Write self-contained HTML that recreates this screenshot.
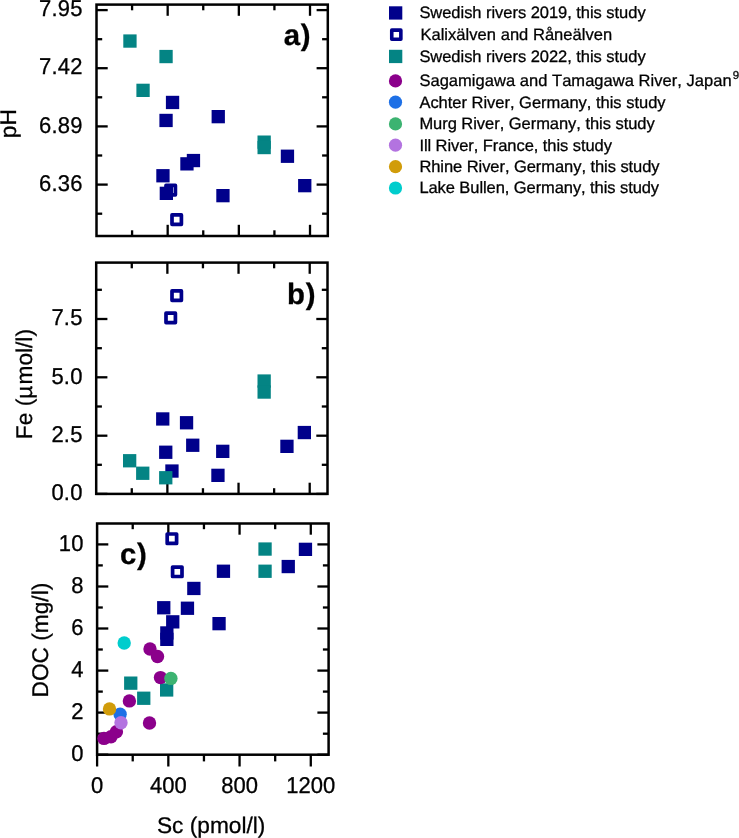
<!DOCTYPE html>
<html><head><meta charset="utf-8"><title>Figure</title>
<style>
html,body{margin:0;padding:0;background:#fff;}
body{width:739px;height:838px;overflow:hidden;}
svg{display:block;}
text{font-family:"Liberation Sans",sans-serif;fill:#000;stroke:#000;stroke-width:0.3px;font-kerning:none;text-rendering:geometricPrecision;}
</style></head><body>
<svg width="739" height="838" viewBox="0 0 739 838">
<rect width="739" height="838" fill="#fff"/>
<rect x="96.5" y="4.6" width="231.30" height="231.40" fill="none" stroke="#000" stroke-width="2.5"/>
<line x1="96.50" y1="10.10" x2="107.70" y2="10.10" stroke="#000" stroke-width="2.3"/>
<line x1="327.80" y1="10.10" x2="316.60" y2="10.10" stroke="#000" stroke-width="2.3"/>
<line x1="96.50" y1="68.20" x2="107.70" y2="68.20" stroke="#000" stroke-width="2.3"/>
<line x1="327.80" y1="68.20" x2="316.60" y2="68.20" stroke="#000" stroke-width="2.3"/>
<line x1="96.50" y1="126.40" x2="107.70" y2="126.40" stroke="#000" stroke-width="2.3"/>
<line x1="327.80" y1="126.40" x2="316.60" y2="126.40" stroke="#000" stroke-width="2.3"/>
<line x1="96.50" y1="184.60" x2="107.70" y2="184.60" stroke="#000" stroke-width="2.3"/>
<line x1="327.80" y1="184.60" x2="316.60" y2="184.60" stroke="#000" stroke-width="2.3"/>
<line x1="96.50" y1="39.20" x2="102.20" y2="39.20" stroke="#000" stroke-width="2.3"/>
<line x1="327.80" y1="39.20" x2="322.10" y2="39.20" stroke="#000" stroke-width="2.3"/>
<line x1="96.50" y1="97.30" x2="102.20" y2="97.30" stroke="#000" stroke-width="2.3"/>
<line x1="327.80" y1="97.30" x2="322.10" y2="97.30" stroke="#000" stroke-width="2.3"/>
<line x1="96.50" y1="155.50" x2="102.20" y2="155.50" stroke="#000" stroke-width="2.3"/>
<line x1="327.80" y1="155.50" x2="322.10" y2="155.50" stroke="#000" stroke-width="2.3"/>
<line x1="96.50" y1="213.70" x2="102.20" y2="213.70" stroke="#000" stroke-width="2.3"/>
<line x1="327.80" y1="213.70" x2="322.10" y2="213.70" stroke="#000" stroke-width="2.3"/>
<line x1="167.67" y1="4.60" x2="167.67" y2="15.80" stroke="#000" stroke-width="2.3"/>
<line x1="238.84" y1="4.60" x2="238.84" y2="15.80" stroke="#000" stroke-width="2.3"/>
<line x1="310.01" y1="4.60" x2="310.01" y2="15.80" stroke="#000" stroke-width="2.3"/>
<line x1="132.08" y1="4.60" x2="132.08" y2="10.30" stroke="#000" stroke-width="2.3"/>
<line x1="203.25" y1="4.60" x2="203.25" y2="10.30" stroke="#000" stroke-width="2.3"/>
<line x1="274.42" y1="4.60" x2="274.42" y2="10.30" stroke="#000" stroke-width="2.3"/>
<line x1="167.67" y1="236.00" x2="167.67" y2="224.80" stroke="#000" stroke-width="2.3"/>
<line x1="238.84" y1="236.00" x2="238.84" y2="224.80" stroke="#000" stroke-width="2.3"/>
<line x1="310.01" y1="236.00" x2="310.01" y2="224.80" stroke="#000" stroke-width="2.3"/>
<line x1="132.08" y1="236.00" x2="132.08" y2="230.30" stroke="#000" stroke-width="2.3"/>
<line x1="203.25" y1="236.00" x2="203.25" y2="230.30" stroke="#000" stroke-width="2.3"/>
<line x1="274.42" y1="236.00" x2="274.42" y2="230.30" stroke="#000" stroke-width="2.3"/>
<rect x="96.2" y="262.6" width="231.30" height="231.30" fill="none" stroke="#000" stroke-width="2.5"/>
<line x1="96.20" y1="319.00" x2="107.40" y2="319.00" stroke="#000" stroke-width="2.3"/>
<line x1="327.50" y1="319.00" x2="316.30" y2="319.00" stroke="#000" stroke-width="2.3"/>
<line x1="96.20" y1="377.30" x2="107.40" y2="377.30" stroke="#000" stroke-width="2.3"/>
<line x1="327.50" y1="377.30" x2="316.30" y2="377.30" stroke="#000" stroke-width="2.3"/>
<line x1="96.20" y1="435.70" x2="107.40" y2="435.70" stroke="#000" stroke-width="2.3"/>
<line x1="327.50" y1="435.70" x2="316.30" y2="435.70" stroke="#000" stroke-width="2.3"/>
<line x1="96.20" y1="493.90" x2="107.40" y2="493.90" stroke="#000" stroke-width="2.3"/>
<line x1="327.50" y1="493.90" x2="316.30" y2="493.90" stroke="#000" stroke-width="2.3"/>
<line x1="96.20" y1="289.80" x2="101.90" y2="289.80" stroke="#000" stroke-width="2.3"/>
<line x1="327.50" y1="289.80" x2="321.80" y2="289.80" stroke="#000" stroke-width="2.3"/>
<line x1="96.20" y1="348.20" x2="101.90" y2="348.20" stroke="#000" stroke-width="2.3"/>
<line x1="327.50" y1="348.20" x2="321.80" y2="348.20" stroke="#000" stroke-width="2.3"/>
<line x1="96.20" y1="406.50" x2="101.90" y2="406.50" stroke="#000" stroke-width="2.3"/>
<line x1="327.50" y1="406.50" x2="321.80" y2="406.50" stroke="#000" stroke-width="2.3"/>
<line x1="96.20" y1="464.80" x2="101.90" y2="464.80" stroke="#000" stroke-width="2.3"/>
<line x1="327.50" y1="464.80" x2="321.80" y2="464.80" stroke="#000" stroke-width="2.3"/>
<line x1="167.37" y1="262.60" x2="167.37" y2="273.80" stroke="#000" stroke-width="2.3"/>
<line x1="238.54" y1="262.60" x2="238.54" y2="273.80" stroke="#000" stroke-width="2.3"/>
<line x1="309.71" y1="262.60" x2="309.71" y2="273.80" stroke="#000" stroke-width="2.3"/>
<line x1="131.78" y1="262.60" x2="131.78" y2="268.30" stroke="#000" stroke-width="2.3"/>
<line x1="202.95" y1="262.60" x2="202.95" y2="268.30" stroke="#000" stroke-width="2.3"/>
<line x1="274.12" y1="262.60" x2="274.12" y2="268.30" stroke="#000" stroke-width="2.3"/>
<line x1="167.37" y1="493.90" x2="167.37" y2="482.70" stroke="#000" stroke-width="2.3"/>
<line x1="238.54" y1="493.90" x2="238.54" y2="482.70" stroke="#000" stroke-width="2.3"/>
<line x1="309.71" y1="493.90" x2="309.71" y2="482.70" stroke="#000" stroke-width="2.3"/>
<line x1="131.78" y1="493.90" x2="131.78" y2="488.20" stroke="#000" stroke-width="2.3"/>
<line x1="202.95" y1="493.90" x2="202.95" y2="488.20" stroke="#000" stroke-width="2.3"/>
<line x1="274.12" y1="493.90" x2="274.12" y2="488.20" stroke="#000" stroke-width="2.3"/>
<rect x="97.1" y="523.5" width="231.50" height="231.20" fill="none" stroke="#000" stroke-width="2.5"/>
<line x1="97.10" y1="544.40" x2="108.30" y2="544.40" stroke="#000" stroke-width="2.3"/>
<line x1="328.60" y1="544.40" x2="317.40" y2="544.40" stroke="#000" stroke-width="2.3"/>
<line x1="97.10" y1="586.50" x2="108.30" y2="586.50" stroke="#000" stroke-width="2.3"/>
<line x1="328.60" y1="586.50" x2="317.40" y2="586.50" stroke="#000" stroke-width="2.3"/>
<line x1="97.10" y1="628.50" x2="108.30" y2="628.50" stroke="#000" stroke-width="2.3"/>
<line x1="328.60" y1="628.50" x2="317.40" y2="628.50" stroke="#000" stroke-width="2.3"/>
<line x1="97.10" y1="670.60" x2="108.30" y2="670.60" stroke="#000" stroke-width="2.3"/>
<line x1="328.60" y1="670.60" x2="317.40" y2="670.60" stroke="#000" stroke-width="2.3"/>
<line x1="97.10" y1="712.60" x2="108.30" y2="712.60" stroke="#000" stroke-width="2.3"/>
<line x1="328.60" y1="712.60" x2="317.40" y2="712.60" stroke="#000" stroke-width="2.3"/>
<line x1="97.10" y1="754.70" x2="108.30" y2="754.70" stroke="#000" stroke-width="2.3"/>
<line x1="328.60" y1="754.70" x2="317.40" y2="754.70" stroke="#000" stroke-width="2.3"/>
<line x1="97.10" y1="565.40" x2="102.80" y2="565.40" stroke="#000" stroke-width="2.3"/>
<line x1="328.60" y1="565.40" x2="322.90" y2="565.40" stroke="#000" stroke-width="2.3"/>
<line x1="97.10" y1="607.50" x2="102.80" y2="607.50" stroke="#000" stroke-width="2.3"/>
<line x1="328.60" y1="607.50" x2="322.90" y2="607.50" stroke="#000" stroke-width="2.3"/>
<line x1="97.10" y1="649.50" x2="102.80" y2="649.50" stroke="#000" stroke-width="2.3"/>
<line x1="328.60" y1="649.50" x2="322.90" y2="649.50" stroke="#000" stroke-width="2.3"/>
<line x1="97.10" y1="691.60" x2="102.80" y2="691.60" stroke="#000" stroke-width="2.3"/>
<line x1="328.60" y1="691.60" x2="322.90" y2="691.60" stroke="#000" stroke-width="2.3"/>
<line x1="97.10" y1="733.70" x2="102.80" y2="733.70" stroke="#000" stroke-width="2.3"/>
<line x1="328.60" y1="733.70" x2="322.90" y2="733.70" stroke="#000" stroke-width="2.3"/>
<line x1="168.33" y1="523.50" x2="168.33" y2="534.70" stroke="#000" stroke-width="2.3"/>
<line x1="239.56" y1="523.50" x2="239.56" y2="534.70" stroke="#000" stroke-width="2.3"/>
<line x1="310.79" y1="523.50" x2="310.79" y2="534.70" stroke="#000" stroke-width="2.3"/>
<line x1="132.72" y1="523.50" x2="132.72" y2="529.20" stroke="#000" stroke-width="2.3"/>
<line x1="203.95" y1="523.50" x2="203.95" y2="529.20" stroke="#000" stroke-width="2.3"/>
<line x1="275.18" y1="523.50" x2="275.18" y2="529.20" stroke="#000" stroke-width="2.3"/>
<line x1="97.10" y1="754.70" x2="97.10" y2="766.50" stroke="#000" stroke-width="2.3"/>
<line x1="168.33" y1="754.70" x2="168.33" y2="766.50" stroke="#000" stroke-width="2.3"/>
<line x1="239.56" y1="754.70" x2="239.56" y2="766.50" stroke="#000" stroke-width="2.3"/>
<line x1="310.79" y1="754.70" x2="310.79" y2="766.50" stroke="#000" stroke-width="2.3"/>
<line x1="132.72" y1="754.70" x2="132.72" y2="761.40" stroke="#000" stroke-width="2.3"/>
<line x1="203.95" y1="754.70" x2="203.95" y2="761.40" stroke="#000" stroke-width="2.3"/>
<line x1="275.18" y1="754.70" x2="275.18" y2="761.40" stroke="#000" stroke-width="2.3"/>
<rect x="166.00" y="185.40" width="9.40" height="9.40" fill="#fff" stroke="#00008B" stroke-width="3.7" stroke-linejoin="round"/>
<rect x="172.00" y="214.90" width="9.40" height="9.40" fill="#fff" stroke="#00008B" stroke-width="3.7" stroke-linejoin="round"/>
<rect x="156.30" y="169.10" width="13.3" height="13.3" fill="#00008B"/>
<rect x="159.70" y="186.70" width="13.3" height="13.3" fill="#00008B"/>
<rect x="159.40" y="113.80" width="13.3" height="13.3" fill="#00008B"/>
<rect x="165.90" y="95.80" width="13.3" height="13.3" fill="#00008B"/>
<rect x="180.30" y="157.20" width="13.3" height="13.3" fill="#00008B"/>
<rect x="186.80" y="153.90" width="13.3" height="13.3" fill="#00008B"/>
<rect x="211.60" y="110.00" width="13.3" height="13.3" fill="#00008B"/>
<rect x="216.30" y="189.00" width="13.3" height="13.3" fill="#00008B"/>
<rect x="280.80" y="149.60" width="13.3" height="13.3" fill="#00008B"/>
<rect x="298.10" y="179.00" width="13.3" height="13.3" fill="#00008B"/>
<rect x="123.30" y="34.40" width="13.3" height="13.3" fill="#048484"/>
<rect x="159.40" y="49.90" width="13.3" height="13.3" fill="#048484"/>
<rect x="136.40" y="83.70" width="13.3" height="13.3" fill="#048484"/>
<rect x="257.50" y="135.50" width="13.3" height="13.3" fill="#048484"/>
<rect x="257.50" y="140.90" width="13.3" height="13.3" fill="#048484"/>
<rect x="172.00" y="290.90" width="9.40" height="9.40" fill="#fff" stroke="#00008B" stroke-width="3.7" stroke-linejoin="round"/>
<rect x="166.00" y="313.20" width="9.40" height="9.40" fill="#fff" stroke="#00008B" stroke-width="3.7" stroke-linejoin="round"/>
<rect x="156.10" y="412.30" width="13.3" height="13.3" fill="#00008B"/>
<rect x="179.90" y="416.10" width="13.3" height="13.3" fill="#00008B"/>
<rect x="186.10" y="438.60" width="13.3" height="13.3" fill="#00008B"/>
<rect x="159.10" y="445.60" width="13.3" height="13.3" fill="#00008B"/>
<rect x="216.10" y="444.70" width="13.3" height="13.3" fill="#00008B"/>
<rect x="165.30" y="464.40" width="13.3" height="13.3" fill="#00008B"/>
<rect x="211.30" y="468.70" width="13.3" height="13.3" fill="#00008B"/>
<rect x="280.30" y="439.70" width="13.3" height="13.3" fill="#00008B"/>
<rect x="297.70" y="425.90" width="13.3" height="13.3" fill="#00008B"/>
<rect x="123.00" y="454.10" width="13.3" height="13.3" fill="#048484"/>
<rect x="136.10" y="466.60" width="13.3" height="13.3" fill="#048484"/>
<rect x="159.10" y="471.10" width="13.3" height="13.3" fill="#048484"/>
<rect x="257.50" y="374.40" width="13.3" height="13.3" fill="#048484"/>
<rect x="257.50" y="385.40" width="13.3" height="13.3" fill="#048484"/>
<rect x="167.20" y="534.00" width="9.40" height="9.40" fill="#fff" stroke="#00008B" stroke-width="3.7" stroke-linejoin="round"/>
<rect x="172.60" y="567.10" width="9.40" height="9.40" fill="#fff" stroke="#00008B" stroke-width="3.7" stroke-linejoin="round"/>
<rect x="298.80" y="542.70" width="13.3" height="13.3" fill="#00008B"/>
<rect x="281.60" y="559.90" width="13.3" height="13.3" fill="#00008B"/>
<rect x="216.80" y="564.60" width="13.3" height="13.3" fill="#00008B"/>
<rect x="187.20" y="581.80" width="13.3" height="13.3" fill="#00008B"/>
<rect x="157.10" y="601.10" width="13.3" height="13.3" fill="#00008B"/>
<rect x="180.80" y="601.60" width="13.3" height="13.3" fill="#00008B"/>
<rect x="166.10" y="615.20" width="13.3" height="13.3" fill="#00008B"/>
<rect x="212.40" y="617.00" width="13.3" height="13.3" fill="#00008B"/>
<rect x="160.20" y="626.30" width="13.3" height="13.3" fill="#00008B"/>
<rect x="160.20" y="632.70" width="13.3" height="13.3" fill="#00008B"/>
<rect x="258.40" y="542.40" width="13.3" height="13.3" fill="#048484"/>
<rect x="258.40" y="564.60" width="13.3" height="13.3" fill="#048484"/>
<rect x="124.10" y="676.50" width="13.3" height="13.3" fill="#048484"/>
<rect x="137.10" y="691.60" width="13.3" height="13.3" fill="#048484"/>
<rect x="160.00" y="683.30" width="13.3" height="13.3" fill="#048484"/>
<circle cx="104.00" cy="738.40" r="6.7" fill="#8B008B"/>
<circle cx="111.00" cy="736.70" r="6.7" fill="#8B008B"/>
<circle cx="116.40" cy="731.70" r="6.7" fill="#8B008B"/>
<circle cx="129.40" cy="700.90" r="6.7" fill="#8B008B"/>
<circle cx="149.50" cy="723.00" r="6.7" fill="#8B008B"/>
<circle cx="150.00" cy="649.00" r="6.7" fill="#8B008B"/>
<circle cx="157.50" cy="656.50" r="6.7" fill="#8B008B"/>
<circle cx="160.50" cy="677.60" r="6.7" fill="#8B008B"/>
<circle cx="120.10" cy="714.30" r="6.7" fill="#1E70E6"/>
<circle cx="170.90" cy="678.40" r="6.7" fill="#3CB371"/>
<circle cx="121.00" cy="722.70" r="6.7" fill="#B373E0"/>
<circle cx="109.50" cy="708.90" r="6.7" fill="#D19C0A"/>
<circle cx="124.20" cy="643.00" r="6.7" fill="#00CDCD"/>
<rect x="389.00" y="6.30" width="13.3" height="13.3" fill="#00008B"/>
<rect x="391.75" y="30.15" width="9.10" height="9.10" fill="#fff" stroke="#00008B" stroke-width="3.6" stroke-linejoin="round"/>
<rect x="389.00" y="49.80" width="13.3" height="13.3" fill="#048484"/>
<circle cx="395.50" cy="80.90" r="6.6" fill="#8B008B"/>
<circle cx="395.50" cy="102.20" r="6.6" fill="#1E70E6"/>
<circle cx="395.50" cy="123.90" r="6.6" fill="#3CB371"/>
<circle cx="395.50" cy="145.20" r="6.6" fill="#B373E0"/>
<circle cx="395.50" cy="166.70" r="6.6" fill="#D19C0A"/>
<circle cx="395.50" cy="188.00" r="6.6" fill="#00CDCD"/>
<g style="opacity:0.999">
<text transform="translate(82.60,16.30) scale(1,1.04)" font-size="22" text-anchor="end" font-weight="normal" letter-spacing="0.2">7.95</text>
<text transform="translate(82.60,74.40) scale(1,1.04)" font-size="22" text-anchor="end" font-weight="normal" letter-spacing="0.2">7.42</text>
<text transform="translate(82.60,132.60) scale(1,1.04)" font-size="22" text-anchor="end" font-weight="normal" letter-spacing="0.2">6.89</text>
<text transform="translate(82.60,190.80) scale(1,1.04)" font-size="22" text-anchor="end" font-weight="normal" letter-spacing="0.2">6.36</text>
<text transform="translate(82.60,325.40) scale(1,1.04)" font-size="22" text-anchor="end" font-weight="normal" letter-spacing="0.2">7.5</text>
<text transform="translate(82.60,383.70) scale(1,1.04)" font-size="22" text-anchor="end" font-weight="normal" letter-spacing="0.2">5.0</text>
<text transform="translate(82.60,442.10) scale(1,1.04)" font-size="22" text-anchor="end" font-weight="normal" letter-spacing="0.2">2.5</text>
<text transform="translate(82.60,500.30) scale(1,1.04)" font-size="22" text-anchor="end" font-weight="normal" letter-spacing="0.2">0.0</text>
<text transform="translate(83.60,550.80) scale(1,1.04)" font-size="22" text-anchor="end" font-weight="normal" letter-spacing="0.2">10</text>
<text transform="translate(83.60,592.90) scale(1,1.04)" font-size="22" text-anchor="end" font-weight="normal" letter-spacing="0.2">8</text>
<text transform="translate(83.60,634.90) scale(1,1.04)" font-size="22" text-anchor="end" font-weight="normal" letter-spacing="0.2">6</text>
<text transform="translate(83.60,677.00) scale(1,1.04)" font-size="22" text-anchor="end" font-weight="normal" letter-spacing="0.2">4</text>
<text transform="translate(83.60,719.00) scale(1,1.04)" font-size="22" text-anchor="end" font-weight="normal" letter-spacing="0.2">2</text>
<text transform="translate(83.60,761.10) scale(1,1.04)" font-size="22" text-anchor="end" font-weight="normal" letter-spacing="0.2">0</text>
<text transform="translate(97.10,792.80) scale(1,1.04)" font-size="22" text-anchor="middle" font-weight="normal" >0</text>
<text transform="translate(168.33,792.80) scale(1,1.04)" font-size="22" text-anchor="middle" font-weight="normal" >400</text>
<text transform="translate(239.56,792.80) scale(1,1.04)" font-size="22" text-anchor="middle" font-weight="normal" >800</text>
<text transform="translate(310.79,792.80) scale(1,1.04)" font-size="22" text-anchor="middle" font-weight="normal" >1200</text>
<text x="211.20" y="832.70" font-size="22.7" text-anchor="middle" font-weight="normal" >Sc (pmol/l)</text>
<text transform="translate(16.2,123.7) rotate(-90)" font-size="22.7" text-anchor="middle">pH</text>
<text transform="translate(31.8,384.1) rotate(-90)" font-size="22.7" text-anchor="middle">Fe (<tspan letter-spacing="1.2">µ</tspan>mol/l)</text>
<text transform="translate(47.6,640.1) rotate(-90)" font-size="22.7" text-anchor="middle">DOC (mg/l)</text>
<text x="283.70" y="44.90" font-size="29.33" text-anchor="start" font-weight="bold" letter-spacing="0.7">a)</text>
<text x="287.10" y="303.50" font-size="29.33" text-anchor="start" font-weight="bold" letter-spacing="0.7">b)</text>
<text x="120.00" y="563.70" font-size="29.33" text-anchor="start" font-weight="bold" letter-spacing="0.7">c)</text>
<text x="419.40" y="18.20" font-size="16.5" text-anchor="start" font-weight="normal" letter-spacing="-0.04">Swedish rivers 2019, this study</text>
<text x="420.40" y="40.10" font-size="16.5" text-anchor="start" font-weight="normal" letter-spacing="0.043">Kalixälven and Råneälven</text>
<text x="419.40" y="61.70" font-size="16.5" text-anchor="start" font-weight="normal" letter-spacing="-0.04">Swedish rivers 2022, this study</text>
<text x="419.40" y="86.30" font-size="16.5" text-anchor="start" font-weight="normal" letter-spacing="0.037">Sagamigawa and Tamagawa River, Japan<tspan dx="1.2" dy="-7.2" font-size="11.5">9</tspan></text>
<text x="419.40" y="107.60" font-size="16.5" text-anchor="start" font-weight="normal" letter-spacing="-0.016">Achter River, Germany, this study</text>
<text x="419.40" y="129.30" font-size="16.5" text-anchor="start" font-weight="normal" letter-spacing="-0.04">Murg River, Germany, this study</text>
<text x="419.40" y="150.60" font-size="16.5" text-anchor="start" font-weight="normal" letter-spacing="-0.068">Ill River, France, this study</text>
<text x="419.40" y="172.10" font-size="16.5" text-anchor="start" font-weight="normal" letter-spacing="-0.061">Rhine River, Germany, this study</text>
<text x="419.40" y="193.40" font-size="16.5" text-anchor="start" font-weight="normal" letter-spacing="-0.077">Lake Bullen, Germany, this study</text>
</g>
</svg>
</body></html>
